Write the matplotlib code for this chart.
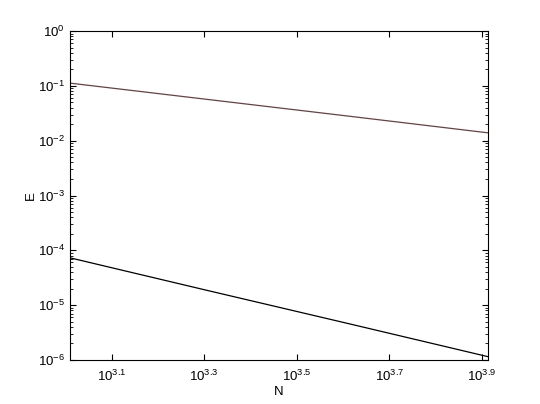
import matplotlib
matplotlib.use("Agg")
import matplotlib.pyplot as plt
from matplotlib.ticker import FixedLocator, FuncFormatter, NullLocator, NullFormatter

plt.rcParams["font.family"] = ["Liberation Sans", "DejaVu Sans"]
plt.rcParams["mathtext.default"] = "regular"

# Problem size and error values
n_values = [1024, 2048, 4096, 8192]
err_first = [0.112, 0.056, 0.028, 0.0139]
err_second = [7.3e-5, 1.82e-5, 4.6e-6, 1.15e-6]
x_tick_exps = [3.1, 3.3, 3.5, 3.7, 3.9]
y_tick_exps = [-6, -5, -4, -3, -2, -1, 0]

fig = plt.figure(figsize=(5.4, 4.04), dpi=100)
ax = fig.add_axes([70 / 540, 1 - 360 / 404, 418 / 540, 329 / 404])

ax.loglog(n_values, err_first, color="#6a4040", lw=0.9)
ax.loglog(n_values, err_second, color="black", lw=0.9)

ax.set_xlim(n_values[0], n_values[-1])
ax.set_ylim(1e-6, 1e0)

ax.xaxis.set_major_locator(FixedLocator([10 ** e for e in x_tick_exps]))
ax.xaxis.set_major_formatter(FuncFormatter(lambda v, pos: f"$10^{{{x_tick_exps[pos]}}}$"))
ax.xaxis.set_minor_locator(NullLocator())

ax.yaxis.set_major_locator(FixedLocator([10.0 ** e for e in y_tick_exps]))
ax.yaxis.set_major_formatter(FuncFormatter(lambda v, pos: f"$10^{{{y_tick_exps[pos]}}}$"))
minor = [m * 10.0 ** e for e in y_tick_exps[:-1] for m in range(2, 10)]
ax.yaxis.set_minor_locator(FixedLocator(minor))
ax.yaxis.set_minor_formatter(NullFormatter())

ax.tick_params(which="both", direction="in", top=True, right=True, labelsize=9.5)
ax.tick_params(axis="x", pad=6)
ax.tick_params(which="major", length=4)
ax.tick_params(which="minor", length=2)
for s in ax.spines.values():
    s.set_linewidth(0.8)

ax.set_xlabel("N", fontsize=9.5, labelpad=2)
ax.set_ylabel("E", fontsize=9.5, rotation=90, labelpad=1)

fig.savefig("out.png", dpi=100)
